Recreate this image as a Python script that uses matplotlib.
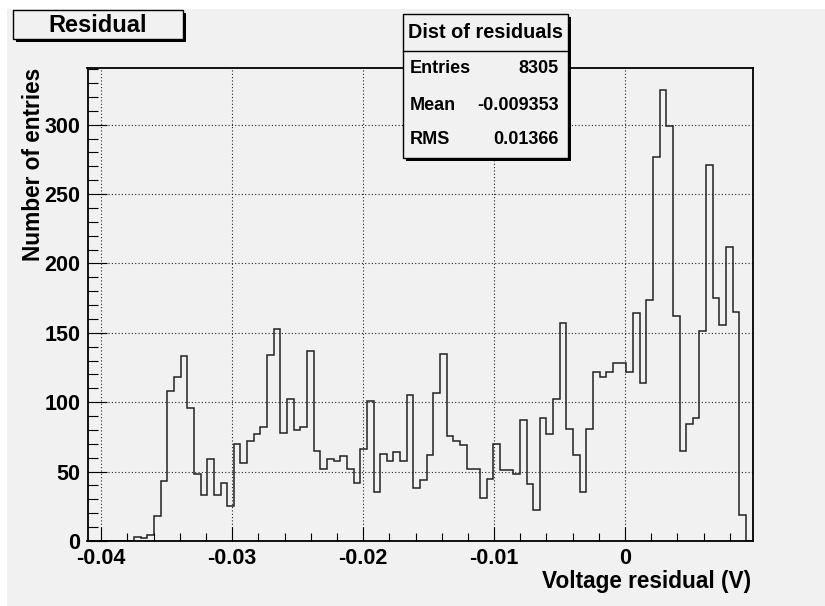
import matplotlib
matplotlib.use("Agg")
import matplotlib.pyplot as plt
import numpy as np
from matplotlib.patches import Rectangle
from matplotlib.lines import Line2D
from matplotlib.ticker import MultipleLocator, FixedLocator, FixedFormatter

plt.rcParams['font.family'] = ['Liberation Sans', 'DejaVu Sans']
plt.rcParams['font.weight'] = 'bold'
plt.rcParams['axes.unicode_minus'] = False

# histogram: 100 bins between x_lo and x_hi
x_lo = -0.04105
x_hi = 0.00975
counts = [
    0, 0, 0, 0, 0, 0, 0, 3, 2, 4,
    18, 43, 108, 118, 133, 96, 48, 33, 59, 33,
    42, 25, 70, 56, 72, 77, 82, 134, 153, 78,
    102, 80, 82, 137, 65, 52, 59, 58, 61, 52,
    42, 66, 101, 35, 63, 58, 64, 58, 105, 38,
    44, 62, 107, 135, 76, 72, 69, 52, 52, 31,
    45, 70, 51, 51, 48, 87, 41, 22, 89, 77,
    102, 157, 81, 62, 35, 81, 122, 118, 122, 128,
    128, 122, 164, 114, 174, 277, 325, 299, 162, 65,
    84, 89, 151, 271, 175, 156, 212, 165, 19, 0,
]
xtick_vals = [-0.04, -0.03, -0.02, -0.01, 0.0]
xtick_labels = ['-0.04', '-0.03', '-0.02', '-0.01', '0']
ytick_vals = [0, 50, 100, 150, 200, 250, 300]

title = 'Residual'
stats_title = 'Dist of residuals'
stats_names = ['Entries', 'Mean', 'RMS']
stats_values = ['8305', '-0.009353', '0.01366']

W, H = 825, 606
BG = '#f1f1f1'


def fx(px):
    return px / W


def fy(py):
    return 1 - py / H


fig = plt.figure(figsize=(W / 100, H / 100), dpi=100, facecolor='white')
# canvas pad
fig.patches.append(Rectangle((fx(7), 0), 1 - fx(7), fy(9), transform=fig.transFigure,
                             facecolor=BG, edgecolor='none', zorder=-10))

ax = fig.add_axes([fx(87.5), fy(541), fx(752.7) - fx(87.5), fy(67.5) - fy(541)])
ax.set_facecolor(BG)

edges = np.linspace(x_lo, x_hi, len(counts) + 1)
ax.stairs(counts, edges, color='#222222', lw=1.1)

ax.set_xlim(x_lo, x_hi)
ax.set_ylim(0, max(counts) * 1.05)

ax.xaxis.set_major_locator(FixedLocator(xtick_vals))
ax.xaxis.set_major_formatter(FixedFormatter(xtick_labels))
ax.xaxis.set_minor_locator(MultipleLocator(0.002))
ax.yaxis.set_major_locator(FixedLocator(ytick_vals))
ax.yaxis.set_minor_locator(MultipleLocator(10))

ax.tick_params(axis='x', which='major', direction='in', length=10, width=0.8, pad=5,
               labelsize=15.5, top=False)
ax.tick_params(axis='x', which='minor', direction='in', length=5.5, width=0.8, top=False)
ax.tick_params(axis='y', which='major', direction='in', length=14, width=0.8, pad=5,
               labelsize=15.5, right=False)
ax.tick_params(axis='y', which='minor', direction='in', length=7.3, width=0.8, right=False)
for lab in ax.get_xticklabels() + ax.get_yticklabels():
    lab.set_fontweight('bold')

ax.grid(True, which='major', color='#222222', lw=0.8, linestyle=(0, (1, 2)))
for s in ax.spines.values():
    s.set_linewidth(1.3)
    s.set_color('black')

# axis titles
fig.text(fx(751), fy(588), 'Voltage residual (V)', ha='right', va='baseline',
         fontsize=16.3, fontweight='bold')
fig.text(fx(34), fy(68), 'Number of entries', rotation=90, ha='center', va='top',
         fontsize=16.3, fontweight='bold')


def box(x0, y0, x1, y1, shadow=3):
    fig.patches.append(Rectangle((fx(x0 + shadow), fy(y1 + shadow)), fx(x1 - x0), fy(0) - fy(y1 - y0),
                                 transform=fig.transFigure, facecolor='black',
                                 edgecolor='none', zorder=5))
    fig.patches.append(Rectangle((fx(x0), fy(y1)), fx(x1 - x0), fy(0) - fy(y1 - y0),
                                 transform=fig.transFigure, facecolor=BG,
                                 edgecolor='black', lw=1.0, zorder=6))


# title box
box(12.7, 10, 182.7, 39.3)
fig.text(fx(97.7), fy(25), title, ha='center', va='center', fontsize=17,
         fontweight='bold', zorder=7)

# stats box
box(402.7, 14.3, 568.3, 158.3)
fig.lines.append(Line2D([fx(402.7), fx(568.3)], [fy(50.7), fy(50.7)],
                        transform=fig.transFigure, color='black', lw=1.0, zorder=7))
fig.text(fx(485.5), fy(33), stats_title, ha='center', va='center', fontsize=14.3,
         fontweight='bold', zorder=7)
for i, (n, v) in enumerate(zip(stats_names, stats_values)):
    yy = [68.5, 105.5, 140][i]
    fig.text(fx(410), fy(yy), n, ha='left', va='center', fontsize=13,
             fontweight='bold', zorder=7)
    fig.text(fx(558.5), fy(yy), v, ha='right', va='center', fontsize=13,
             fontweight='bold', zorder=7)

fig.savefig('out.png', dpi=100, facecolor='white')
